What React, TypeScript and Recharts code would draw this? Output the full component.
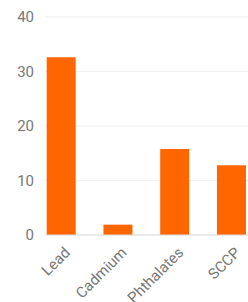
import { BarChart, Bar, XAxis, YAxis, CartesianGrid } from 'recharts';

const substances = ['Lead', 'Cadmium', 'Phthalates', 'SCCP'];
const detectedValues = [32.6, 1.9, 15.8, 12.8];
// second dataset is empty in the source chart, it only reserves the right half of each group
const emptyValues = [null, null, null, null];
const yTicks = [0, 10, 20, 30, 40];

const chartData = substances.map((name, i) => ({
    name,
    detected: detectedValues[i],
    empty: emptyValues[i],
}));

export default function App() {
    return (
        <div style={{ position: 'absolute', left: 0, top: 0, width: 248, height: 302, overflow: 'hidden', background: '#fff' }}>
            <BarChart
                width={280}
                height={302}
                data={chartData}
                margin={{ top: 17, right: 8, bottom: 0, left: 0 }}
                barCategoryGap={1.7}
                barGap={-5.3}
            >
                <CartesianGrid vertical={false} stroke="#efefef" />
                <XAxis
                    dataKey="name"
                    height={67}
                    interval={0}
                    angle={-45}
                    textAnchor="end"
                    tickLine={false}
                    axisLine={{ stroke: '#dcdcdc' }}
                    tick={{ fill: '#777', fontSize: 15, fontFamily: 'Roboto', dx: -10, dy: 3 }}
                />
                <YAxis
                    width={45}
                    domain={[0, 40]}
                    ticks={yTicks}
                    tickLine={false}
                    axisLine={false}
                    tickSize={0}
                    tickMargin={11}
                    tick={{ fill: '#777', fontSize: 15, fontFamily: 'Roboto' }}
                />
                <Bar dataKey="detected" fill="#ff6600" isAnimationActive={false} />
                <Bar dataKey="empty" fill="#ff6600" isAnimationActive={false} />
            </BarChart>
        </div>
    );
}
